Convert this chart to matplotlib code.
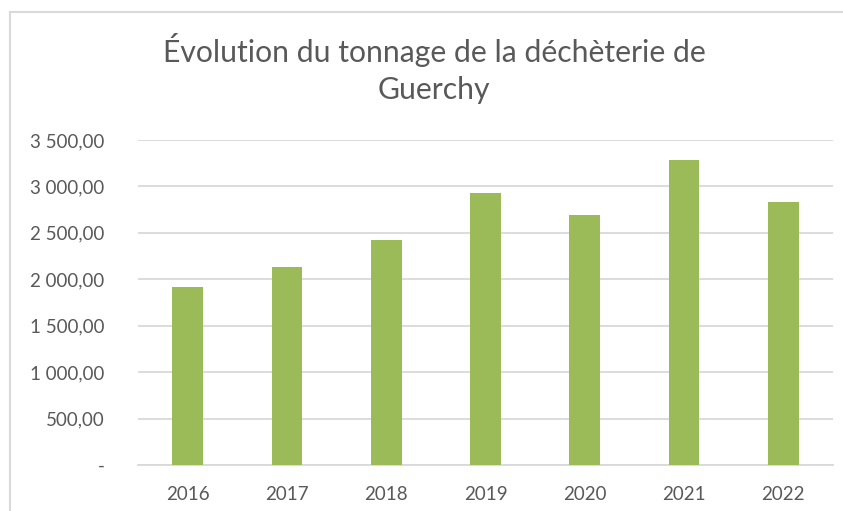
import matplotlib.pyplot as plt
from matplotlib.lines import Line2D

# Données
annees = ["2016", "2017", "2018", "2019", "2020", "2021", "2022"]
tonnage = [1920, 2136, 2423, 2926, 2692, 3285, 2836]
y_ticks = [0, 500, 1000, 1500, 2000, 2500, 3000, 3500]
y_labels = ["-", "500,00", "1 000,00", "1 500,00", "2 000,00", "2 500,00", "3 000,00", "3 500,00"]
titre = ["Évolution du tonnage de la déchèterie de", "Guerchy"]

plt.rcParams['font.family'] = ['Lato', 'DejaVu Sans']

fig = plt.figure(figsize=(8.43, 5.11), dpi=100)
ax = fig.add_axes([138/843, 1 - 465/511, (833 - 138)/843, (465 - 140)/511])

x = range(len(annees))
ax.bar(x, tonnage, width=0.31, color='#9BBB59', zorder=3)

ax.set_xlim(-0.5, len(annees) - 0.5)
ax.set_ylim(0, 3500)
ax.set_yticks(y_ticks)
ax.set_yticklabels(y_labels)
ax.set_xticks(list(x))
ax.set_xticklabels(annees)
ax.tick_params(axis='both', length=0, labelsize=13.5, colors='#595959')
ax.tick_params(axis='y', pad=24)
ax.tick_params(axis='x', pad=15)
ax.grid(axis='y', color='#D9D9D9', linewidth=1.3, zorder=0)
for s in ['top', 'right', 'left']:
    ax.spines[s].set_visible(False)
ax.spines['bottom'].set_color('#D9D9D9')
ax.spines['bottom'].set_linewidth(1.3)

# Titre sur deux lignes
fig.text(434/843, 1 - 62/511, titre[0], ha='center', va='baseline', fontsize=21.7, color='#595959')
fig.text(434/843, 1 - 99/511, titre[1], ha='center', va='baseline', fontsize=21.7, color='#595959')

# Cadre du graphique
fig.add_artist(Line2D([10/843, 1], [1 - 12/511, 1 - 12/511], transform=fig.transFigure, color='#D9D9D9', linewidth=1.5))
fig.add_artist(Line2D([10/843, 10/843], [0, 1 - 12/511], transform=fig.transFigure, color='#D9D9D9', linewidth=1.5))

fig.savefig("out.png", dpi=100)
